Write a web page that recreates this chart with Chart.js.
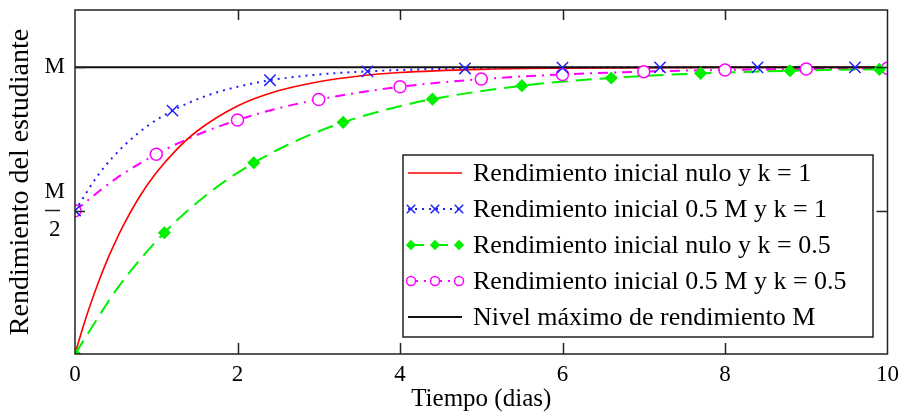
<!DOCTYPE html>
<html>
<head>
<meta charset="utf-8">
<script src="https://cdn.jsdelivr.net/npm/chart.js@4"></script>
<style>
  html, body { margin: 0; padding: 0; background: #fff; }
</style>
</head>
<body>
<canvas id="perf" width="906" height="415"></canvas>
<script>
'use strict';

// curves (y in units of M, t in days)
const redT = [0, 0.1, 0.2, 0.3, 0.4, 0.5, 0.6, 0.8, 1, 1.25, 1.5, 2, 2.5, 3, 3.5, 4, 5, 6, 8, 10];
const redY = [0, 0.095, 0.181, 0.259, 0.33, 0.393, 0.451, 0.551, 0.632, 0.713, 0.777, 0.865, 0.918, 0.95, 0.97, 0.982, 0.993, 0.997, 1, 1];

const blueT = [0, 0.3, 0.6, 0.9, 1.2, 1.6, 2, 2.4, 3, 3.6, 4.8, 6, 7.2, 8.4, 9.6, 10];
const blueY = [0.5, 0.63, 0.726, 0.797, 0.849, 0.899, 0.932, 0.955, 0.975, 0.986, 0.996, 0.999, 1, 1, 1, 1];
const blueMarkT = [0, 1.2, 2.4, 3.6, 4.8, 6, 7.2, 8.4, 9.6];

const greenT = [0, 0.55, 1.1, 1.65, 2.2, 2.75, 3.3, 3.85, 4.4, 5.5, 6.6, 7.7, 8.8, 9.9, 10];
const greenY = [0, 0.24, 0.423, 0.562, 0.667, 0.747, 0.808, 0.854, 0.889, 0.936, 0.963, 0.979, 0.988, 0.993, 0.993];
const greenMarkT = [0, 1.1, 2.2, 3.3, 4.4, 5.5, 6.6, 7.7, 8.8, 9.9];

const magT = [0, 0.5, 1, 1.5, 2, 2.5, 3, 4, 5, 6, 7, 8, 9, 10];
const magY = [0.5, 0.611, 0.697, 0.764, 0.816, 0.857, 0.888, 0.932, 0.959, 0.975, 0.985, 0.991, 0.994, 0.997];
const magMarkT = [0, 1, 2, 3, 4, 5, 6, 7, 8, 9, 10];

const levelT = [0, 10];
const levelY = [1, 1];

const seriesNames = [
  'Rendimiento inicial nulo y k = 1',
  'Rendimiento inicial 0.5 M y k = 1',
  'Rendimiento inicial nulo y k = 0.5',
  'Rendimiento inicial 0.5 M y k = 0.5',
  'Nivel máximo de rendimiento M',
];

const xTicks = [0, 2, 4, 6, 8, 10];
const yTicks = [0.5, 1];
const yTickLabels = ['M/2', 'M'];

const serif = '"Liberation Serif", "Times New Roman", serif';
Chart.defaults.font.family = serif;
Chart.defaults.color = '#000';

function pts(t, y) {
  return t.map((v, i) => ({x: v, y: y[i]}));
}
function marks(t, y, at) {
  return pts(t, y).filter((p) => at.includes(p.x));
}

function lineSet(label, t, y, color, dash, width) {
  return {
    label: label,
    data: pts(t, y),
    borderColor: color,
    borderDash: dash,
    borderWidth: width,
    pointRadius: 0,
    cubicInterpolationMode: 'monotone',
    fill: false,
    order: 3,
  };
}
function markSet(forIdx, data, style, radius, color, bg) {
  return {
    label: '',
    markFor: forIdx,
    data: data,
    showLine: false,
    pointStyle: style,
    pointRadius: radius,
    pointBorderWidth: 1.5,
    pointBorderColor: color,
    pointBackgroundColor: bg,
    order: 1,
  };
}

const datasets = [
  lineSet(seriesNames[0], redT, redY, '#ff0000', [], 1.6),
  lineSet(seriesNames[1], blueT, blueY, '#2020ff', [2, 5], 2),
  lineSet(seriesNames[2], greenT, greenY, '#00f000', [16, 8], 2),
  lineSet(seriesNames[3], magT, magY, '#ff00ff', [10, 6, 2, 6], 2),
  Object.assign(lineSet(seriesNames[4], levelT, levelY, '#111', [], 2), {order: 2, cubicInterpolationMode: 'default'}),
  markSet(1, marks(blueT, blueY, blueMarkT), 'crossRot', 8, '#2020ff', '#2020ff'),
  markSet(2, marks(greenT, greenY, greenMarkT), 'rectRot', 5.5, '#00f000', '#00f000'),
  markSet(3, marks(magT, magY, magMarkT), 'circle', 6, '#ff00ff', '#fff'),
];

// frame, inward ticks, fraction bar and the boxed legend
const decor = {
  id: 'decor',
  afterDatasetsDraw(chart) {
    const {ctx, chartArea: a, scales: {x, y}} = chart;
    ctx.save();
    ctx.strokeStyle = '#222';
    ctx.lineWidth = 1.5;
    ctx.strokeRect(a.left, a.top, a.right - a.left, a.bottom - a.top);

    ctx.beginPath();
    xTicks.slice(1, -1).forEach((v) => {
      const px = Math.round(x.getPixelForValue(v)) + 0.5;
      ctx.moveTo(px, a.bottom); ctx.lineTo(px, a.bottom - 11);
      ctx.moveTo(px, a.top); ctx.lineTo(px, a.top + 10);
    });
    yTicks.forEach((v) => {
      const py = Math.round(y.getPixelForValue(v)) + 0.5;
      ctx.moveTo(a.left, py); ctx.lineTo(a.left + 10, py);
      ctx.moveTo(a.right, py); ctx.lineTo(a.right - 11, py);
    });
    ctx.stroke();

    // bar of the M/2 fraction
    yTickLabels.forEach((lab, i) => {
      if (lab.indexOf('/') < 0) return;
      const py = Math.round(y.getPixelForValue(yTicks[i]) - 1) + 0.5;
      const cx = y.right - 22;
      ctx.beginPath();
      ctx.lineWidth = 1.5;
      ctx.moveTo(cx - 8, py); ctx.lineTo(cx + 7, py);
      ctx.stroke();
    });

    // legend box
    const box = {l: 403, t: 155, r: 873, b: 337};
    ctx.fillStyle = '#fff';
    ctx.fillRect(box.l, box.t, box.r - box.l, box.b - box.t);
    ctx.lineWidth = 1.5;
    ctx.strokeStyle = '#222';
    ctx.strokeRect(box.l, box.t, box.r - box.l, box.b - box.t);

    const rows = chart.data.datasets.filter((d) => d.label);
    rows.forEach((d, i) => {
      const ry = 173 + i * 36;
      ctx.save();
      ctx.strokeStyle = d.borderColor;
      ctx.lineWidth = d.borderWidth;
      ctx.setLineDash(d.borderDash || []);
      ctx.beginPath();
      ctx.moveTo(408, ry); ctx.lineTo(462, ry);
      ctx.stroke();
      ctx.restore();

      const idx = chart.data.datasets.indexOf(d);
      const m = chart.data.datasets.find((s) => s.markFor === idx);
      if (m) {
        [411, 435, 459].forEach((mx) => {
          ctx.save();
          ctx.strokeStyle = m.pointBorderColor;
          ctx.fillStyle = m.pointBackgroundColor;
          ctx.lineWidth = 1.5;
          Chart.helpers.drawPoint(ctx, {
            pointStyle: m.pointStyle,
            radius: m.pointRadius * 0.75,
            borderWidth: 1.5,
            rotation: 0,
          }, mx, ry);
          ctx.restore();
        });
      }
      ctx.fillStyle = '#000';
      ctx.font = '26px ' + serif;
      ctx.textBaseline = 'middle';
      ctx.textAlign = 'left';
      ctx.fillText(d.label, 473, ry + 1);
    });
    ctx.restore();
  },
};

new Chart(document.querySelector('#perf'), {
  type: 'line',
  data: {datasets: datasets},
  options: {
    responsive: false,
    animation: false,
    layout: {padding: {top: 10, right: 18, bottom: 0, left: 0}},
    plugins: {
      legend: {display: false},
      tooltip: {enabled: false},
    },
    scales: {
      x: {
        type: 'linear',
        min: 0,
        max: 10,
        grid: {display: false, drawTicks: false},
        border: {display: false},
        afterFit(scale) { scale.height = 61; },
        afterBuildTicks(scale) { scale.ticks = xTicks.map((v) => ({value: v})); },
        ticks: {
          padding: 7,
          maxRotation: 0,
          font: {size: 23},
        },
        title: {
          display: true,
          text: 'Tiempo (dias)',
          font: {size: 25},
          padding: {top: 0, bottom: 1},
        },
      },
      y: {
        type: 'linear',
        min: 0,
        max: 1.2,
        grid: {display: false, drawTicks: false},
        border: {display: false},
        afterFit(scale) {
          scale.width = 75;
          scale.paddingTop = 0;
          scale.paddingBottom = 0;
        },
        afterBuildTicks(scale) { scale.ticks = yTicks.map((v) => ({value: v})); },
        ticks: {
          padding: 10,
          crossAlign: 'center',
          font: {size: 23, lineHeight: 1.65},
          callback: (v) => {
            const lab = yTickLabels[yTicks.indexOf(v)];
            return lab.indexOf('/') >= 0 ? lab.split('/') : lab;
          },
        },
        title: {
          display: true,
          text: 'Rendimiento del estudiante',
          font: {size: 28},
          padding: {top: 4, bottom: 0},
        },
      },
    },
  },
  plugins: [decor],
});
</script>
</body>
</html>
